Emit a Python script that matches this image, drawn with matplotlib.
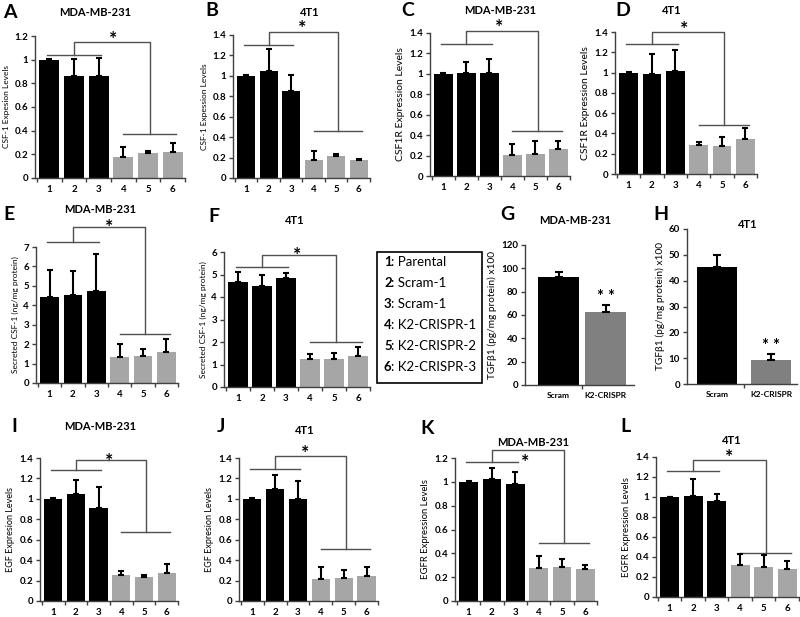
import numpy as np
import matplotlib.pyplot as plt
from matplotlib.patches import Rectangle
from matplotlib.ticker import FuncFormatter, MultipleLocator

plt.rcParams['font.family'] = ['Lato', 'DejaVu Sans']
plt.rcParams['font.weight'] = 'bold'

W, H = 800, 617

# Datos
groups = [1, 2, 3, 4, 5, 6]
tgf_groups = ['Scram', 'K2-CRISPR']
legend_nums = ['1', '2', '3', '4', '5', '6']
legend_names = ['Parental', 'Scram-1', 'Scram-1', 'K2-CRISPR-1', 'K2-CRISPR-2', 'K2-CRISPR-3']

csf1_mda = [1.0, 0.865, 0.86, 0.175, 0.21, 0.22]
csf1_mda_err = [0.005, 0.14, 0.15, 0.085, 0.02, 0.075]
csf1_4t1 = [1.0, 1.045, 0.855, 0.175, 0.215, 0.175]
csf1_4t1_err = [0.005, 0.215, 0.155, 0.085, 0.02, 0.01]
csf1r_mda = [1.0, 1.005, 1.005, 0.205, 0.215, 0.265]
csf1r_mda_err = [0.005, 0.11, 0.14, 0.105, 0.125, 0.08]
csf1r_4t1 = [1.0, 0.99, 1.015, 0.285, 0.28, 0.35]
csf1r_4t1_err = [0.005, 0.19, 0.21, 0.035, 0.085, 0.1]
sec_mda = [4.45, 4.52, 4.75, 1.35, 1.38, 1.6]
sec_mda_err = [1.35, 1.25, 1.9, 0.65, 0.37, 0.68]
sec_4t1 = [4.65, 4.5, 4.85, 1.25, 1.23, 1.4]
sec_4t1_err = [0.45, 0.5, 0.2, 0.2, 0.3, 0.37]
tgf_mda = [93, 62.8]
tgf_mda_err = [4, 5.7]
tgf_4t1 = [45.2, 9.4]
tgf_4t1_err = [4.9, 2.2]
egf_mda = [1.0, 1.045, 0.915, 0.25, 0.235, 0.275]
egf_mda_err = [0.005, 0.135, 0.2, 0.045, 0.02, 0.09]
egf_4t1 = [1.0, 1.1, 1.0, 0.22, 0.23, 0.24]
egf_4t1_err = [0.005, 0.13, 0.175, 0.11, 0.075, 0.09]
egfr_mda = [1.0, 1.025, 0.985, 0.275, 0.285, 0.265]
egfr_mda_err = [0.005, 0.09, 0.1, 0.105, 0.065, 0.04]
egfr_4t1 = [1.0, 1.01, 0.96, 0.32, 0.305, 0.285]
egfr_4t1_err = [0.005, 0.175, 0.07, 0.11, 0.115, 0.08]

# niveles de las llaves de significancia: (grupo 1-3, grupo 4-6, llave, x del *, y del *)
sig_a = (1.043, 0.37, 1.15, 3.6, 1.22)
sig_b = (1.30, 0.456, 1.43, 3.5, 1.52)
sig_c = (1.29, 0.443, 1.416, 3.43, 1.51)
sig_d = (1.28, 0.484, 1.40, 3.37, 1.48)
sig_e = (7.26, 2.54, 8.03, 3.55, 8.3)
sig_f = (5.33, 2.0, 5.85, 3.47, 6.1)
sig_i = (1.286, 0.68, 1.38, 3.48, 1.42)
sig_j = (1.295, 0.51, 1.42, 3.33, 1.5)
sig_k = (1.163, 0.485, 1.264, 3.44, 1.21)
sig_l = (1.256, 0.445, 1.373, 3.51, 1.447)

fmt = FuncFormatter(lambda v, p: '%g' % round(v, 2))


def make_ax(box):
    x0, yt, x1, yb = box
    ax = fig.add_axes([x0 / W, 1 - yb / H, (x1 - x0) / W, (yb - yt) / H])
    for s in ['top', 'right']:
        ax.spines[s].set_visible(False)
    for s in ['left', 'bottom']:
        ax.spines[s].set_color('#404040')
        ax.spines[s].set_linewidth(1.0)
    ax.tick_params(axis='y', direction='out', length=3, width=1, color='#404040',
                   labelsize=7, pad=2)
    ax.tick_params(axis='x', which='major', length=0, labelsize=7, pad=5)
    ax.tick_params(axis='x', which='minor', direction='out', length=3, width=1, color='#404040')
    ax.yaxis.set_major_formatter(fmt)
    return ax


def six_panel(box, vals, errs, ymax, step, sig, ylabel, ylsize):
    ax = make_ax(box)
    x = np.array(groups)
    colors = ['black'] * 3 + ['#a6a6a6'] * 3
    ax.bar(x, vals, width=0.8, color=colors, zorder=2)
    ax.errorbar(x, vals, yerr=[np.zeros(6), errs], fmt='none', ecolor='black',
                elinewidth=1.5, capsize=2, capthick=1.5, zorder=3)
    ax.set_xlim(0.42, 6.5)
    ax.set_ylim(0, ymax)
    ax.yaxis.set_major_locator(MultipleLocator(step))
    ax.set_xticks(x)
    ax.set_xticklabels([str(g) for g in groups])
    ax.set_xticks(np.arange(0.5, 7, 1), minor=True)
    ax.set_ylabel(ylabel, fontsize=ylsize, labelpad=3)
    left_y, right_y, top_y, sx, sy = sig
    lc = '#505050'
    ax.plot([0.9, 3.1], [left_y, left_y], color=lc, lw=1, clip_on=False)
    ax.plot([4.0, 6.15], [right_y, right_y], color=lc, lw=1, clip_on=False)
    ax.plot([2, 2, 5.1, 5.1], [left_y, top_y, top_y, right_y], color=lc, lw=1, clip_on=False)
    ax.annotate('*', (sx, sy), xytext=(0, -4), textcoords='offset points',
                ha='center', va='center', fontsize=14, annotation_clip=False)
    return ax


def two_panel(box, vals, errs, ymax, step, xl, width):
    ax = make_ax(box)
    x = np.arange(len(tgf_groups))
    ax.bar(x, vals, width=width, color=['black', '#808080'], zorder=2)
    ax.errorbar(x, vals, yerr=[np.zeros(2), errs], fmt='none', ecolor='black',
                elinewidth=1.5, capsize=3, capthick=1.5, zorder=3)
    ax.set_xlim(*xl)
    ax.set_ylim(0, ymax)
    ax.yaxis.set_major_locator(MultipleLocator(step))
    ax.set_xticks(x)
    ax.set_xticklabels(tgf_groups, fontsize=6)
    ax.set_xticks([0.5], minor=True)
    ax.set_ylabel('TGFβ1 (pg/mg protein) x100', fontsize=7.3, labelpad=3)
    ax.annotate('* *', (1, vals[1] + errs[1]), xytext=(0, 0), textcoords='offset points',
                ha='center', va='bottom', fontsize=12, annotation_clip=False)
    return ax


def ptxt(x, y, s, size, ha='center'):
    fig.text(x / W, 1 - y / H, s, fontsize=size, ha=ha, va='center', fontweight='bold')


fig = plt.figure(figsize=(8, 6.17), dpi=100)

six_panel((35, 36, 185, 178), csf1_mda, csf1_mda_err, 1.2, 0.2, sig_a, 'CSF-1 Expesion Levels', 6)
six_panel((233, 35, 370, 178), csf1_4t1, csf1_4t1_err, 1.4, 0.2, sig_b, 'CSF-1 Expession Levels', 6)
six_panel((430, 33, 570, 176), csf1r_mda, csf1r_mda_err, 1.4, 0.2, sig_c, 'CSF1R Expression Levels', 7.5)
six_panel((615, 32, 757, 174), csf1r_4t1, csf1r_4t1_err, 1.4, 0.2, sig_d, 'CSF1R Expression Levels', 7.5)
six_panel((36, 247, 178, 383), sec_mda, sec_mda_err, 7, 1, sig_e, 'Secreted CSF-1 (ng/mg protein)', 6)
six_panel((224, 252, 370, 387), sec_4t1, sec_4t1_err, 6, 1, sig_f, 'Secreted CSF-1 (ng/mg protein)', 6)
two_panel((525, 245, 634, 385), tgf_mda, tgf_mda_err, 120, 20, (-0.71, 1.6), 0.87)
two_panel((687, 229, 797, 384), tgf_4t1, tgf_4t1_err, 60, 10, (-0.56, 1.48), 0.74)
six_panel((40, 458, 178, 601), egf_mda, egf_mda_err, 1.4, 0.2, sig_i, 'EGF Expresion Levels', 6.5)
six_panel((239, 458, 378, 601), egf_4t1, egf_4t1_err, 1.4, 0.2, sig_j, 'EGF Expresion Levels', 6.5)
six_panel((455, 458, 597, 601), egfr_mda, egfr_mda_err, 1.2, 0.2, sig_k, 'EGFR Expression Levels', 6.8)
six_panel((656, 457, 799, 597), egfr_4t1, egfr_4t1_err, 1.4, 0.2, sig_l, 'EGFR Expression Levels', 6.8)

# Titulos
titles = [(95, 12, 'MDA-MB-231'), (310, 12, '4T1'), (500, 10, 'MDA-MB-231'), (672, 10, '4T1'),
          (100, 209, 'MDA-MB-231'), (295, 220, '4T1'), (575, 220, 'MDA-MB-231'), (748, 225, '4T1'),
          (100, 427, 'MDA-MB-231'), (305, 431, '4T1'), (533, 443, 'MDA-MB-231'), (732, 440, '4T1')]
for x, y, s in titles:
    ptxt(x, y, s, 8)

letters = [(3, 12, 'A'), (205, 10, 'B'), (401, 10, 'C'), (615, 10, 'D'), (3, 215, 'E'), (208, 217, 'F'),
           (500, 215, 'G'), (653, 215, 'H'), (11, 427, 'I'), (217, 427, 'J'), (420, 428, 'K'), (620, 427, 'L')]
for x, y, s in letters:
    ptxt(x, y, s, 14, ha='left')

# Leyenda
fig.patches.append(Rectangle((377 / W, 1 - 383 / H), 105 / W, 131 / H, transform=fig.transFigure,
                             fill=False, edgecolor='black', linewidth=1.2))
for i, (n, name) in enumerate(zip(legend_nums, legend_names)):
    y = 262 + i * 21
    fig.text(384 / W, 1 - y / H, n, fontsize=9.5, fontweight='bold', va='center')
    fig.text(391 / W, 1 - y / H, ': ' + name, fontsize=9.5, fontweight='normal', va='center')

plt.savefig('out.png', dpi=100)
